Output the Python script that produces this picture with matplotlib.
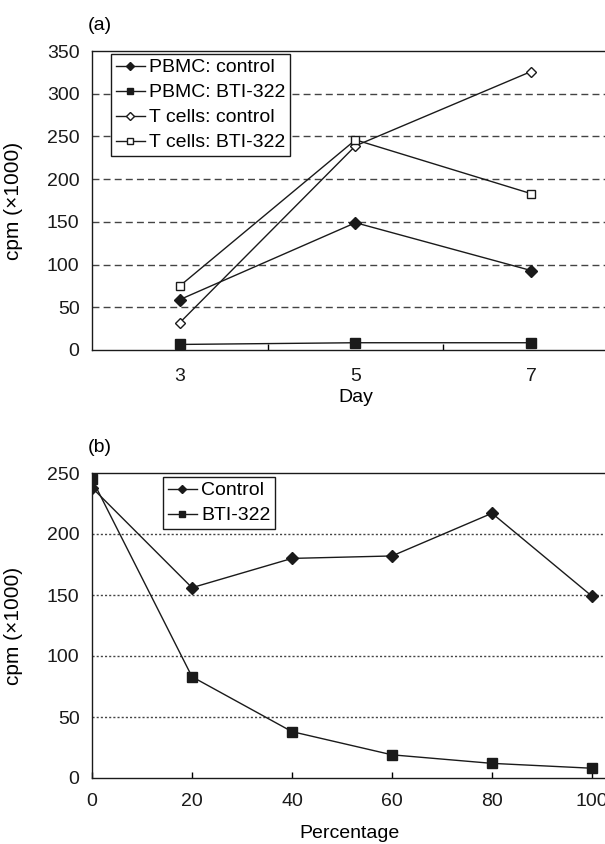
import matplotlib
matplotlib.use('Agg')
import matplotlib.pyplot as plt

plt.rcParams['font.family'] = ['Liberation Sans', 'DejaVu Sans']

# panel (a)
days = [3, 5, 7]
pbmc_control = [59, 149, 93]
pbmc_bti = [6.5, 8.5, 8.5]
t_control = [32, 239, 326]
t_bti = [75, 246, 183]

# panel (b)
percentage = [0, 20, 40, 60, 80, 100]
b_control = [238, 156, 180, 182, 217, 149]
b_bti = [245, 83, 38, 19, 12, 8]

W, H = 605, 844
fig = plt.figure(figsize=(W / 100, H / 100), dpi=100)

ink = '#1a1a1a'
fs = 14


def box(l, t, r, b):
    return [l / W, 1 - b / H, (r - l) / W, (b - t) / H]


leg_kw = dict(loc='upper left', bbox_transform=fig.transFigure, borderaxespad=0, fontsize=fs,
              frameon=True, fancybox=False, edgecolor=ink, framealpha=1, handlelength=1.5,
              handletextpad=0.2, labelspacing=0.38, borderpad=0.25, markerscale=0.75)

# ---- (a) ----
ax1 = fig.add_axes(box(92, 51, 619, 350))
ax1.plot(days, pbmc_control, color=ink, lw=1, marker='D', ms=5.8, mfc=ink, mec=ink, label='PBMC: control')
ax1.plot(days, pbmc_bti, color=ink, lw=1, marker='s', ms=6.5, mfc=ink, mec=ink, label='PBMC: BTI-322')
ax1.plot(days, t_control, color=ink, lw=1, marker='D', ms=5.2, mfc='white', mec=ink, mew=1, label='T cells: control')
ax1.plot(days, t_bti, color=ink, lw=1, marker='s', ms=5.5, mfc='white', mec=ink, mew=1, label='T cells: BTI-322')
ax1.set_xlim(2, 8)
ax1.set_ylim(0, 350)
ax1.set_xticks(days)
ax1.set_xticks([4, 6], minor=True)
ax1.set_yticks(range(0, 351, 50))
for y in range(50, 301, 50):
    ax1.axhline(y, color='#444444', lw=1, ls=(0, (5, 3)), zorder=0)
ax1.tick_params(axis='x', which='major', length=0, pad=13, labelsize=fs)
ax1.tick_params(axis='x', which='minor', direction='in', length=4, width=1)
ax1.tick_params(axis='y', length=0, pad=9, labelsize=fs)
ax1.set_ylabel('cpm (\u00d71000)', fontsize=fs + 1)
ax1.yaxis.set_label_coords(-69 / 527, 0.5)
ax1.set_xlabel('Day', fontsize=fs)
ax1.xaxis.set_label_coords(0.5, -48 / 299)
ax1.xaxis.label.set_va('center')
ax1.text(100 / W, 1 - 25 / H, '(a)', transform=fig.transFigure, fontsize=fs, ha='center', va='center')
leg1 = ax1.legend(bbox_to_anchor=(111 / W, 1 - 54 / H), **leg_kw)
leg1.get_frame().set_linewidth(1)

# ---- (b) ----
ax2 = fig.add_axes(box(92, 473, 617, 778))
ax2.plot(percentage, b_control, color=ink, lw=1, marker='D', ms=5.8, mfc=ink, mec=ink, label='Control')
ax2.plot(percentage, b_bti, color=ink, lw=1, marker='s', ms=6.5, mfc=ink, mec=ink, label='BTI-322')
ax2.set_xlim(0, 105)
ax2.set_ylim(0, 250)
ax2.set_xticks(percentage)
ax2.set_yticks(range(0, 251, 50))
for y in range(50, 201, 50):
    ax2.axhline(y, color='#444444', lw=1, ls=(0, (1.5, 1.5)), zorder=0)
ax2.tick_params(axis='x', direction='in', length=4, width=1, pad=11, labelsize=fs)
ax2.tick_params(axis='y', length=0, pad=9, labelsize=fs)
ax2.set_ylabel('cpm (\u00d71000)', fontsize=fs + 1)
ax2.yaxis.set_label_coords(-69 / 525, 0.5)
ax2.set_xlabel('Percentage', fontsize=fs)
ax2.xaxis.set_label_coords(0.49, -55 / 305)
ax2.xaxis.label.set_va('center')
ax2.text(100 / W, 1 - 447 / H, '(b)', transform=fig.transFigure, fontsize=fs, ha='center', va='center')
leg2 = ax2.legend(bbox_to_anchor=(163 / W, 1 - 477 / H), **leg_kw)
leg2.get_frame().set_linewidth(1)

for ax in (ax1, ax2):
    for s in ax.spines.values():
        s.set_color(ink)
        s.set_linewidth(1)
    for lab in ax.get_xticklabels() + ax.get_yticklabels():
        lab.set_color(ink)

fig.savefig('out.png', dpi=100)
